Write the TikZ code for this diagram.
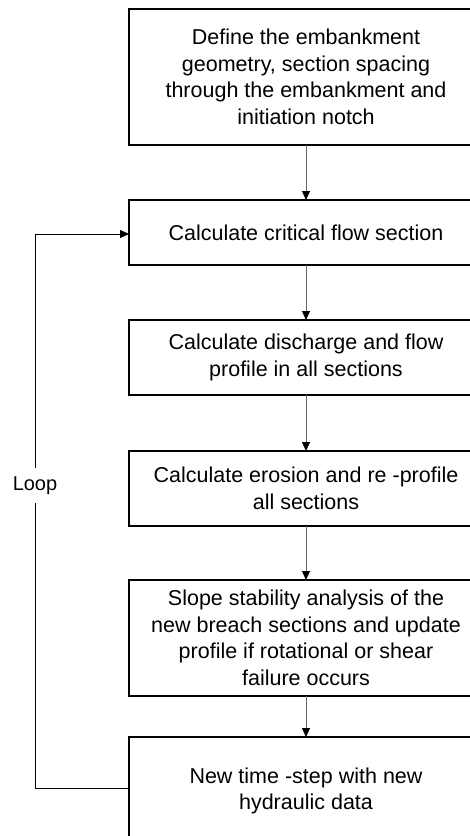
\documentclass[tikz,border=0pt]{standalone}
\usepackage{fontspec}
\setmainfont{Liberation Sans}
\usetikzlibrary{positioning}
\usetikzlibrary{arrows.meta}

\begin{document}
\begin{tikzpicture}[
  font=\fontsize{21.5}{26.5}\selectfont,
  box/.style={draw, line width=1.4pt, align=center, minimum width=354pt, inner sep=4pt, outer sep=0pt},
  arrow/.style={-{Triangle[length=9pt, width=8pt, color=black]}, black!60, line width=0.9pt},
  loopline/.style={-{Triangle[length=9pt, width=8pt]}, line width=0.8pt}
]
\useasboundingbox (0,0) rectangle (470pt,-836pt);
\clip (0,0) rectangle (470pt,-836pt);

% Set-up of the model
\node[box, minimum height=136pt] (define) at (306pt,-77pt)
{Define the embankment\\ geometry, section spacing\\
through the embankment and\\ initiation notch};

% Steps of one time-step
\node[box, below=55pt of define, minimum height=65pt] (critical)
{Calculate critical flow section};
\node[box, below=55pt of critical, minimum height=75pt] (discharge)
{Calculate discharge and flow\\ profile in all sections};
\node[box, below=56pt of discharge, minimum height=75pt] (erosion)
{Calculate erosion and re -profile\\ all sections};
\node[box, below=54pt of erosion, minimum height=116pt] (slope)
{Slope stability analysis of the\\ new breach sections and update\\
profile if rotational or shear\\ failure occurs};
\node[box, below=41pt of slope, minimum height=108pt] (timestep)
{New time -step with new\\ hydraulic data};

\draw[arrow] (define) -- (critical);
\draw[arrow] (critical) -- (discharge);
\draw[arrow] (discharge) -- (erosion);
\draw[arrow] (erosion) -- (slope);
\draw[arrow] (slope) -- (timestep);

% Loop back to the critical flow section
\coordinate (loopx) at (35pt,0);
\draw[loopline] ([yshift=3pt]timestep.west) -- ([yshift=3pt]timestep.west -| loopx)
  -- node[pos=0.546, fill=white, inner xsep=1pt, inner ysep=9pt, font=\fontsize{20}{24}\selectfont] (loop) {Loop}
  ([yshift=-1.5pt]critical.west -| loopx) -- ([yshift=-1.5pt]critical.west);

\end{tikzpicture}
\end{document}
